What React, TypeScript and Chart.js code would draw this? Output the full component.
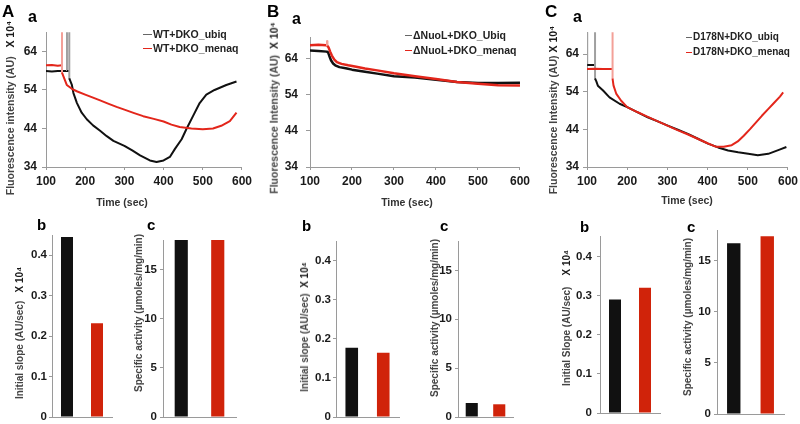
import React, { useEffect, useRef } from 'react';
import { Chart, registerables } from 'chart.js';

Chart.register(...registerables);

// ---------------- data ----------------
const timeTicks = [100, 200, 300, 400, 500, 600];
const intensityTicks = [34, 44, 54, 64];
const slopeTicks = [0, 0.1, 0.2, 0.3, 0.4];
const activityTicks = [0, 5, 10, 15];
const barCategories = ['ubiq', 'menaq'];

// Panel A (WT)
const aUbiqTime = [100, 115, 130, 145, 153.5, 153.5, 153.5, 159.4, 159.4, 159.4, 166, 170, 179, 191, 204, 220, 238, 255, 272, 300, 320, 340, 365, 382, 400, 416, 429, 446, 458, 475, 492, 509, 530, 560, 586];
const aUbiqValue = [58.9, 58.8, 58.9, 58.9, 58.9, 69, 58.9, 58.9, 69, 57.0, 55.3, 53.2, 50.6, 48.1, 46.4, 44.8, 43.4, 42.0, 40.8, 39.5, 38.3, 37.0, 35.7, 35.3, 35.7, 36.6, 38.7, 41.2, 43.8, 47.2, 50.6, 52.8, 54.0, 55.3, 56.2];
const aMenaqTime = [100, 115, 130, 140.8, 140.8, 140.8, 145, 153, 166, 180, 200, 220, 238, 260, 280, 300, 325, 348, 375, 400, 420, 441, 471, 500, 526, 547, 569, 586];
const aMenaqValue = [60.4, 60.5, 60.3, 60.4, 69, 58.5, 57.4, 55.3, 54.3, 53.6, 52.8, 52.0, 51.3, 50.4, 49.6, 48.9, 48.0, 47.2, 46.5, 45.8, 45.0, 44.4, 44.0, 43.8, 44.0, 44.7, 45.9, 48.1];

// Panel B (ΔNuoL)
const bUbiqTime = [100, 120, 140, 143, 146, 150, 155, 160, 170, 185, 200, 231, 260, 300, 350, 400, 450, 500, 548, 600];
const bUbiqValue = [66.3, 66.2, 66.0, 65.8, 64.8, 63.6, 62.7, 62.2, 61.7, 61.4, 61.0, 60.4, 59.9, 59.2, 58.8, 58.2, 57.6, 57.3, 57.3, 57.4];
const bMenaqTime = [100, 120, 138, 141, 141, 141, 144, 148, 152, 158, 164, 175, 191, 210, 231, 260, 300, 350, 400, 450, 500, 548, 600];
const bMenaqValue = [67.8, 67.9, 67.8, 67.8, 68.9, 67.6, 67.2, 66.0, 64.9, 63.8, 63.1, 62.6, 62.2, 61.8, 61.3, 60.8, 60.0, 59.2, 58.4, 57.6, 57.1, 56.7, 56.6];

// Panel C (D178N)
const cUbiqTime = [100.5, 100.5, 110, 120, 120, 120, 123, 127, 140, 156, 181, 200, 225, 251, 276, 301, 326, 351, 376, 401, 426, 451, 476, 501, 525, 551, 579, 596];
const cUbiqValue = [69.8, 61.1, 61.1, 61.1, 69.8, 57.5, 56.8, 55.6, 54.3, 52.5, 50.8, 49.9, 48.6, 47.2, 46.1, 45.0, 43.9, 42.8, 41.5, 40.2, 39.2, 38.4, 37.9, 37.5, 37.1, 37.5, 38.6, 39.3];
const cMenaqTime = [100, 120, 140, 163.6, 163.6, 163.6, 166, 173, 185, 200, 225, 250, 275, 300, 325, 350, 375, 400, 420, 440, 460, 475, 490, 505, 520, 535, 550, 565, 580, 588];
const cMenaqValue = [60.0, 60.1, 60.0, 60.0, 69.8, 57.5, 55.6, 53.4, 51.6, 49.9, 48.6, 47.4, 46.2, 45.0, 43.8, 42.7, 41.5, 40.3, 39.4, 39.4, 39.8, 40.8, 42.3, 44.0, 45.8, 47.6, 49.3, 51.0, 52.7, 53.8];

// Bars: initial slope (x10^4 AU/sec) and specific activity (µmoles/mg/min)
const aSlope = [0.445, 0.232];
const aActivity = [18.0, 18.0];
const bSlope = [0.177, 0.164];
const bActivity = [1.43, 1.3];
const cSlope = [0.29, 0.32];
const cActivity = [16.7, 17.4];

// ---------------- styles ----------------
const FONT = "'Liberation Sans', Arial, Helvetica, sans-serif";
const AXIS = '#9a9a9a';
const TICK_COLOR = '#1a1a1a';
const BLACK = '#111111';
const RED = '#e3261b';
const GRAY_SPIKE = '#a0a0a0';
const RED_SPIKE = '#f3a098';
const BAR_RED = '#d0230a';

type Rect = { l: number; t: number; r: number; b: number };
type Frame = { rect: Rect; yW: number; xH: number; pt: number; pr: number; pb: number };

const pts = (t: number[], v: number[]) => t.map((x, i) => ({ x, y: v[i] }));

function series(t: number[], v: number[], color: string, spike: string, width: number) {
  return {
    data: pts(t, v),
    borderColor: color,
    borderWidth: width,
    pointRadius: 0,
    tension: 0,
    clip: 0,
    borderJoinStyle: 'round',
    segment: {
      borderColor: (ctx: any) => (ctx.p0.parsed.x === ctx.p1.parsed.x ? spike : undefined),
    },
  };
}

function lineChart(uT: number[], uV: number[], mT: number[], mV: number[], yMax: number, yPad: number, lw: number) {
  return (f: Frame) => ({
    type: 'line',
    data: {
      datasets: [series(mT, mV, RED, RED_SPIKE, lw), series(uT, uV, BLACK, GRAY_SPIKE, lw)],
    },
    options: {
      animation: false,
      responsive: false,
      devicePixelRatio: 1,
      events: [],
      layout: { padding: { left: 0, top: f.pt, right: f.pr, bottom: f.pb } },
      plugins: { legend: { display: false }, tooltip: { enabled: false } },
      scales: {
        x: {
          type: 'linear',
          min: 100,
          max: 600,
          afterBuildTicks: (s: any) => { s.ticks = timeTicks.map((value) => ({ value })); },
          afterFit: (s: any) => { s.height = f.xH; },
          grid: { drawOnChartArea: false, tickLength: 3, color: AXIS },
          border: { color: AXIS, width: 1 },
          ticks: { font: { family: FONT, size: 12, weight: 'bold' }, color: TICK_COLOR, padding: 4, maxRotation: 0, autoSkip: false, callback: (v: any) => String(v) },
        },
        y: {
          type: 'linear',
          min: 34,
          max: yMax,
          afterBuildTicks: (s: any) => { s.ticks = intensityTicks.map((value) => ({ value })); },
          afterFit: (s: any) => { s.width = f.yW; },
          grid: { drawOnChartArea: false, tickLength: 4, color: AXIS },
          border: { color: AXIS, width: 1 },
          ticks: { font: { family: FONT, size: 12, weight: 'bold' }, color: TICK_COLOR, padding: yPad, autoSkip: false, callback: (v: any) => String(v) },
        },
      },
    },
  });
}

function barChart(values: number[], yMax: number, ticks: number[], fmt: (v: number) => string, bp: number, yPad: number) {
  return (f: Frame) => ({
    type: 'bar',
    data: {
      labels: barCategories,
      datasets: [{ data: values, backgroundColor: [BLACK, BAR_RED], borderWidth: 0, barPercentage: bp, categoryPercentage: 1 }],
    },
    options: {
      animation: false,
      responsive: false,
      devicePixelRatio: 1,
      events: [],
      layout: { padding: { left: 0, top: f.pt, right: f.pr, bottom: f.pb } },
      plugins: { legend: { display: false }, tooltip: { enabled: false } },
      scales: {
        x: {
          type: 'category',
          afterFit: (s: any) => { s.height = f.xH; },
          grid: { display: false },
          border: { color: AXIS, width: 1 },
          ticks: { display: false },
        },
        y: {
          type: 'linear',
          min: 0,
          max: yMax,
          afterBuildTicks: (s: any) => { s.ticks = ticks.map((value) => ({ value })); },
          afterFit: (s: any) => { s.width = f.yW; },
          grid: { drawOnChartArea: false, tickLength: 3, color: AXIS },
          border: { color: AXIS, width: 1 },
          ticks: { font: { family: FONT, size: 11.5, weight: 'bold' }, color: TICK_COLOR, padding: yPad, autoSkip: false, callback: (v: any) => fmt(Number(v)) },
        },
      },
    },
  });
}

const slopeFmt = (v: number) => (v === 0 ? '0' : v.toFixed(1));
const actFmt = (v: number) => String(v);

function ChartBox({ frame, make }: { frame: Frame; make: (f: Frame) => any }) {
  const ref = useRef<HTMLCanvasElement | null>(null);
  const { rect, yW, xH, pt, pr, pb } = frame;
  const left = rect.l - yW;
  const top = rect.t - pt;
  const width = rect.r - rect.l + yW + pr;
  const height = rect.b - rect.t + pt + xH + pb;
  useEffect(() => {
    const chart = new Chart(ref.current as HTMLCanvasElement, make(frame));
    return () => chart.destroy();
  }, []);
  return <canvas ref={ref} width={width} height={height} style={{ position: 'absolute', left, top, width, height }} />;
}

function Label({ x, baseline, size, text }: { x: number; baseline: number; size: number; text: string }) {
  return (
    <div style={{ position: 'absolute', left: x, top: baseline - 0.8465 * size, fontSize: size, lineHeight: `${size}px`, fontWeight: 'bold', color: '#000', whiteSpace: 'pre' }}>{text}</div>
  );
}

function HTitle({ cx, cy, text, size = 10.5 }: { cx: number; cy: number; text: string; size?: number }) {
  return (
    <div style={{ position: 'absolute', left: cx, top: cy, transform: 'translate(-50%, -50%)', fontSize: size, lineHeight: `${size}px`, fontWeight: 'bold', color: '#333', whiteSpace: 'pre' }}>{text}</div>
  );
}

function VTitle({ cx, cy, main, gap, size = 10.5 }: { cx: number; cy: number; main: string; gap: string; size?: number }) {
  return (
    <div style={{ position: 'absolute', left: cx, top: cy, transform: 'translate(-50%, -50%) rotate(-90deg)', fontSize: size, lineHeight: `${size}px`, fontWeight: 'bold', whiteSpace: 'pre' }}>
      <span style={{ color: '#444' }}>{main}</span>
      {gap ? <span style={{ color: '#1a1a1a' }}>{gap}X 10⁴</span> : null}
    </div>
  );
}

function LegendRow({ x, y, lineW, color, text, size = 10.5 }: { x: number; y: number; lineW: number; color: string; text: string; size?: number }) {
  return (
    <div style={{ position: 'absolute', left: x, top: y - size / 2, height: size, display: 'flex', alignItems: 'center', whiteSpace: 'pre', fontSize: size, lineHeight: `${size}px`, fontWeight: 'bold', color: '#222' }}>
      <span style={{ display: 'inline-block', width: lineW, height: 1, background: color, marginRight: 1 }} />
      {text}
    </div>
  );
}

const lineFrame = (rect: Rect, yW: number): Frame => ({ rect, yW, xH: 30, pt: 10, pr: 14, pb: 0 });
const barFrame = (rect: Rect, yW: number): Frame => ({ rect, yW, xH: 1, pt: 10, pr: 4, pb: 10 });

export default function App() {
  return (
    <div style={{ position: 'fixed', left: 0, top: 0, width: 800, height: 424, background: '#fff', overflow: 'hidden', fontFamily: FONT }}>
      {/* Line charts */}
      <ChartBox frame={lineFrame({ l: 46, t: 30, r: 242, b: 167 }, 40)} make={lineChart(aUbiqTime, aUbiqValue, aMenaqTime, aMenaqValue, 69, 5, 2)} />
      <ChartBox frame={lineFrame({ l: 310, t: 32, r: 520, b: 167 }, 40)} make={lineChart(bUbiqTime, bUbiqValue, bMenaqTime, bMenaqValue, 70, 8, 2.5)} />
      <ChartBox frame={lineFrame({ l: 587, t: 31, r: 788, b: 167 }, 40)} make={lineChart(cUbiqTime, cUbiqValue, cMenaqTime, cMenaqValue, 69.8, 4, 2)} />

      {/* Bar charts */}
      <ChartBox frame={barFrame({ l: 52, t: 235, r: 112, b: 417 }, 30)} make={barChart(aSlope, 0.45, slopeTicks, slopeFmt, 0.4, 2)} />
      <ChartBox frame={barFrame({ l: 163, t: 240, r: 236, b: 417 }, 30)} make={barChart(aActivity, 18, activityTicks, actFmt, 0.36, 3)} />
      <ChartBox frame={barFrame({ l: 336, t: 241, r: 399, b: 417 }, 30)} make={barChart(bSlope, 0.45, slopeTicks, slopeFmt, 0.4, 2)} />
      <ChartBox frame={barFrame({ l: 458, t: 241, r: 513, b: 417 }, 30)} make={barChart(bActivity, 18, activityTicks, actFmt, 0.44, 3)} />
      <ChartBox frame={barFrame({ l: 600, t: 235, r: 660, b: 414 }, 30)} make={barChart(cSlope, 0.45, slopeTicks, slopeFmt, 0.4, 5)} />
      <ChartBox frame={barFrame({ l: 717, t: 230, r: 784, b: 414 }, 30)} make={barChart(cActivity, 18, activityTicks, actFmt, 0.4, 3)} />

      {/* Panel letters */}
      <Label x={2} baseline={17} size={17} text="A" />
      <Label x={28} baseline={23} size={16} text="a" />
      <Label x={267} baseline={17} size={17} text="B" />
      <Label x={292} baseline={25} size={16} text="a" />
      <Label x={545} baseline={17} size={17} text="C" />
      <Label x={573} baseline={23} size={16} text="a" />
      <Label x={37} baseline={230} size={15} text="b" />
      <Label x={147} baseline={230} size={15} text="c" />
      <Label x={302} baseline={231} size={15} text="b" />
      <Label x={440} baseline={231} size={15} text="c" />
      <Label x={580} baseline={232} size={15} text="b" />
      <Label x={687} baseline={232} size={15} text="c" />

      {/* Legends */}
      <LegendRow x={143} y={34} lineW={9} color="#666" text="WT+DKO_ubiq" />
      <LegendRow x={143} y={48} lineW={9} color={RED} text="WT+DKO_menaq" />
      <LegendRow x={405} y={35} lineW={7} color="#666" text="ΔNuoL+DKO_Ubiq" />
      <LegendRow x={405} y={50} lineW={7} color={RED} text="ΔNuoL+DKO_menaq" />
      <LegendRow x={686} y={37} lineW={6} color="#666" text="D178N+DKO_ubiq" size={10} />
      <LegendRow x={686} y={52} lineW={6} color={RED} text="D178N+DKO_menaq" size={10} />

      {/* Axis titles */}
      <HTitle cx={122} cy={202} text="Time (sec)" />
      <HTitle cx={407} cy={202} text="Time (sec)" />
      <HTitle cx={687} cy={200} text="Time (sec)" />
      <VTitle cx={10} cy={108} main="Fluorescence intensity (AU)" gap="   " />
      <VTitle cx={274} cy={108} main="Fluorescence Intensity (AU)" gap="  " />
      <VTitle cx={553} cy={110} main="Fluorescence Intensity (AU)" gap=" " />
      <VTitle cx={20} cy={333} main="Initial slope (AU/sec)" gap="   " size={10} />
      <VTitle cx={139} cy={313} main="Specific activity (µmoles/mg/min)" gap="" size={10} />
      <VTitle cx={305} cy={327} main="Initial slope (AU/sec)" gap="  " size={10} />
      <VTitle cx={435} cy={318} main="Specific activity (µmoles/mg/min)" gap="" size={10} />
      <VTitle cx={567} cy={318} main="Initial Slope (AU/sec)" gap="    " size={10} />
      <VTitle cx={688} cy={317} main="Specific activity (µmoles/mg/min)" gap="" size={10} />
    </div>
  );
}
